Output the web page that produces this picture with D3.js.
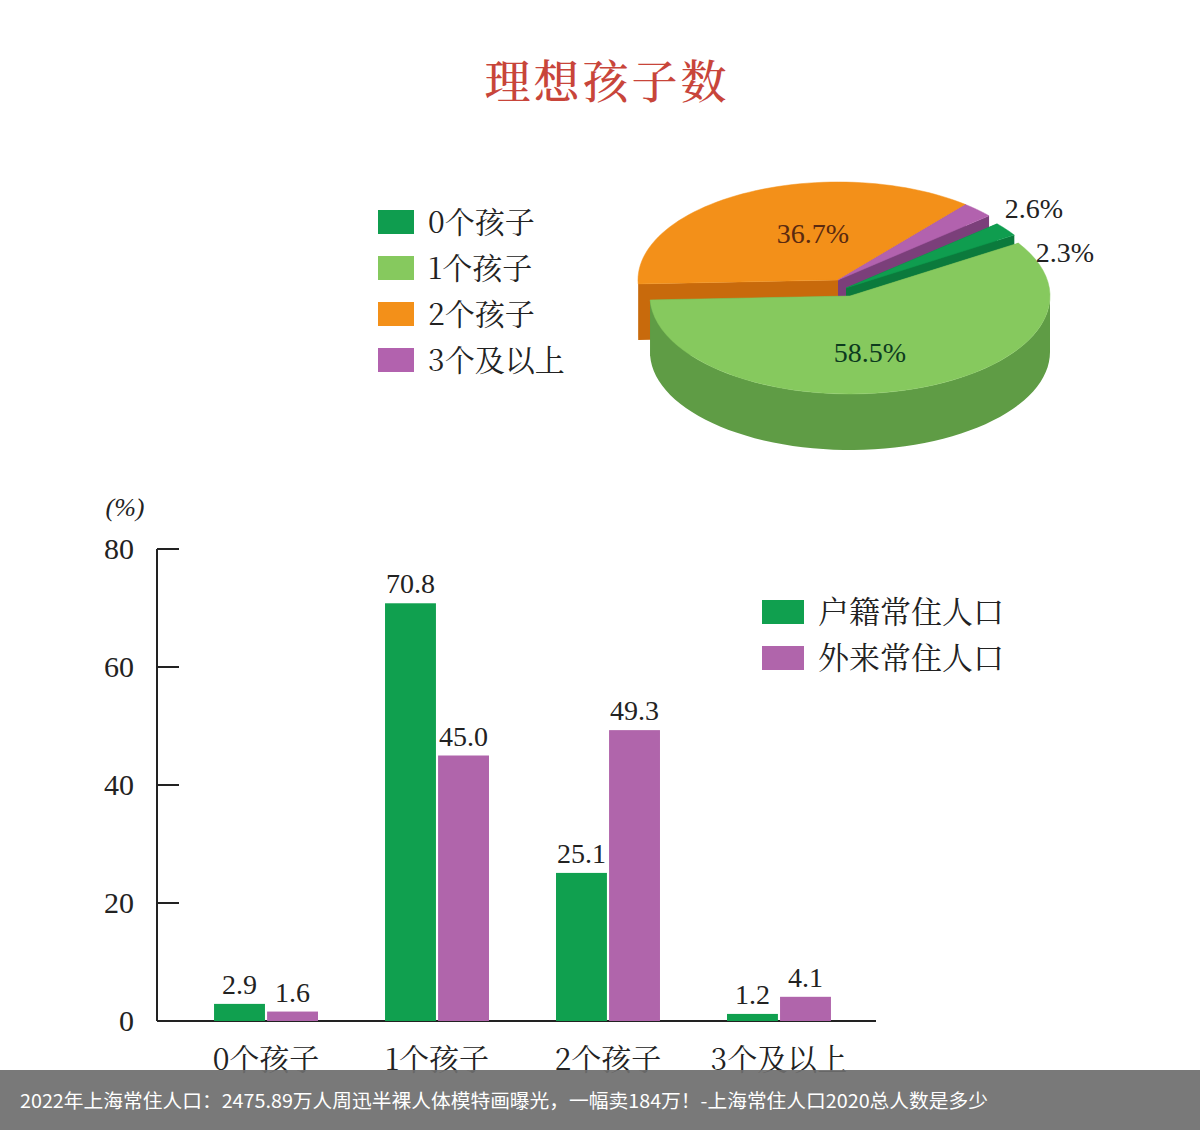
<!DOCTYPE html>
<html><head><meta charset="utf-8">
<script src="https://cdn.jsdelivr.net/npm/d3@7/dist/d3.min.js"></script>
<style>body{margin:0;background:#fff}svg{display:block}</style>
</head><body>
<script>
const pieLabels = ["0个孩子", "1个孩子", "2个孩子", "3个及以上"];
const pieValues = [2.3, 58.5, 36.7, 2.6];
const categories = ["0个孩子", "1个孩子", "2个孩子", "3个及以上"];
const seriesNames = ["户籍常住人口", "外来常住人口"];
const huji = [2.9, 70.8, 25.1, 1.2];
const wailai = [1.6, 45.0, 49.3, 4.1];
const yTicks = [0, 20, 40, 60, 80];

const serif = "'Liberation Serif','DejaVu Serif',serif";
const cjk = "'Noto Serif CJK SC','Noto Sans CJK SC',serif";
const topCol = ["#0f9d4f", "#86c95e", "#f39019", "#b262ae"];
const sideCol = ["#0b7a3c", "#5f9c45", "#c86a0c", "#7b3f7a"];

const svg = d3.select("body").append("svg").attr("width", 1200).attr("height", 1130);

svg.append("text").attr("x", 607).attr("y", 98).attr("text-anchor", "middle")
  .attr("font-family", cjk).attr("font-size", 46).attr("font-weight", 500)
  .attr("fill", "#c8453a").attr("letter-spacing", 3).text("理想孩子数");

// legend pie
pieLabels.forEach((l, i) => {
  const y = 222 + i * 46;
  svg.append("rect").attr("x", 378).attr("y", y - 12).attr("width", 36).attr("height", 24).attr("fill", topCol[i]);
  svg.append("text").attr("x", 428).attr("y", y + 11).attr("font-family", cjk).attr("font-size", 30).attr("fill", "#222").text(l);
});

// 3D pie
const cx = 838, cy = 280, rx = 200, ry = 98, depth = 56;
const order = [2, 3, 0, 1];
const total = d3.sum(pieValues);
let a = Math.PI + 0.04;
const slices = order.map(i => {
  const span = pieValues[i] / total * 2 * Math.PI;
  const s = { i, a0: a, a1: a - span };
  a -= span;
  return s;
});
const offsets = { 2: [0, 0], 3: [0, 0], 0: [8, 8], 1: [12, 16] };
const pt = (ox, oy, t, dz) => [cx + ox + rx * Math.cos(t), cy + oy - ry * Math.sin(t) + dz];
function arcPts(ox, oy, t0, t1, dz) {
  const n = 60, p = [];
  for (let k = 0; k <= n; k++) p.push(pt(ox, oy, t0 + (t1 - t0) * k / n, dz));
  return p;
}
const line = d3.line();
const g = svg.append("g");
slices.forEach(s => {
  const [ox, oy] = offsets[s.i];
  const c = [cx + ox, cy + oy];
  [s.a0, s.a1].forEach(t => {
    const p = pt(ox, oy, t, 0);
    g.append("path").attr("d", line([c, p, [p[0], p[1] + depth], [c[0], c[1] + depth]]) + "Z").attr("fill", sideCol[s.i]);
  });
  const f0 = Math.min(s.a0, 0), f1 = Math.max(s.a1, -Math.PI);
  if (f0 > f1) {
    const up = arcPts(ox, oy, f0, f1, 0), dn = arcPts(ox, oy, f1, f0, depth);
    g.append("path").attr("d", line(up.concat(dn)) + "Z").attr("fill", sideCol[s.i]);
  }
});
slices.forEach(s => {
  const [ox, oy] = offsets[s.i];
  const p = [[cx + ox, cy + oy]].concat(arcPts(ox, oy, s.a0, s.a1, 0));
  g.append("path").attr("d", line(p) + "Z").attr("fill", topCol[s.i]).attr("stroke", topCol[s.i]).attr("stroke-width", 0.5);
});
const pieTxt = [
  { t: pieValues[2].toFixed(1) + "%", x: 813, y: 243, c: "#5a2a10" },
  { t: pieValues[1].toFixed(1) + "%", x: 870, y: 362, c: "#0d3b1e" },
  { t: pieValues[3].toFixed(1) + "%", x: 1034, y: 218, c: "#222" },
  { t: pieValues[0].toFixed(1) + "%", x: 1065, y: 262, c: "#222" }
];
pieTxt.forEach(d => svg.append("text").attr("x", d.x).attr("y", d.y).attr("text-anchor", "middle")
  .attr("font-family", serif).attr("font-size", 28).attr("fill", d.c).text(d.t));

// bar chart
const y = d3.scaleLinear().domain([0, 80]).range([1021, 549]);
const x0 = d3.scaleBand().domain(categories).range([186, 859]).paddingInner(0.392).paddingOuter(0.164);
const x1 = d3.scaleBand().domain([0, 1]).range([0, x0.bandwidth()]).paddingInner(0.04);
const bg = svg.append("g");
bg.append("line").attr("x1", 157).attr("x2", 157).attr("y1", 549).attr("y2", 1021).attr("stroke", "#222").attr("stroke-width", 2);
bg.append("line").attr("x1", 157).attr("x2", 876).attr("y1", 1021).attr("y2", 1021).attr("stroke", "#222").attr("stroke-width", 2);
yTicks.forEach(t => {
  bg.append("line").attr("x1", 157).attr("x2", 179).attr("y1", y(t)).attr("y2", y(t)).attr("stroke", "#222").attr("stroke-width", 2);
  bg.append("text").attr("x", 134).attr("y", y(t) + 10).attr("text-anchor", "end").attr("font-family", serif).attr("font-size", 30).attr("fill", "#222").text(t);
});
bg.append("text").attr("x", 125).attr("y", 516).attr("text-anchor", "middle").attr("font-family", serif).attr("font-size", 26).attr("font-style", "italic").attr("fill", "#222").text("(%)");
const barCol = ["#10a04f", "#b065ab"];
[huji, wailai].forEach((vals, si) => {
  vals.forEach((v, ci) => {
    const xx = x0(categories[ci]) + x1(si);
    bg.append("rect").attr("x", xx).attr("y", y(v)).attr("width", x1.bandwidth()).attr("height", y(0) - y(v)).attr("fill", barCol[si]);
    bg.append("text").attr("x", xx + x1.bandwidth() / 2).attr("y", y(v) - 10).attr("text-anchor", "middle")
      .attr("font-family", serif).attr("font-size", 28).attr("fill", "#222").text(v.toFixed(1));
  });
});
categories.forEach(c => bg.append("text").attr("x", x0(c) + x0.bandwidth() / 2).attr("y", 1070).attr("text-anchor", "middle")
  .attr("font-family", cjk).attr("font-size", 30).attr("fill", "#222").text(c));
seriesNames.forEach((n, i) => {
  const yy = 612 + i * 46;
  bg.append("rect").attr("x", 762).attr("y", yy - 12).attr("width", 42).attr("height", 24).attr("fill", barCol[i]);
  bg.append("text").attr("x", 818).attr("y", yy + 11).attr("font-family", cjk).attr("font-size", 31).attr("fill", "#222").text(n);
});

// caption overlay
svg.append("rect").attr("x", 0).attr("y", 1070).attr("width", 1200).attr("height", 60).attr("fill", "#6e6e6e").attr("opacity", 0.92);
svg.append("text").attr("x", 20).attr("y", 1108).attr("font-family", "'Noto Sans CJK SC',sans-serif").attr("font-size", 19)
  .attr("textLength", 968).attr("lengthAdjust", "spacingAndGlyphs").attr("fill", "#fff")
  .text("2022年上海常住人口：2475.89万人周迅半裸人体模特画曝光，一幅卖184万！-上海常住人口2020总人数是多少");
</script>
</body></html>
